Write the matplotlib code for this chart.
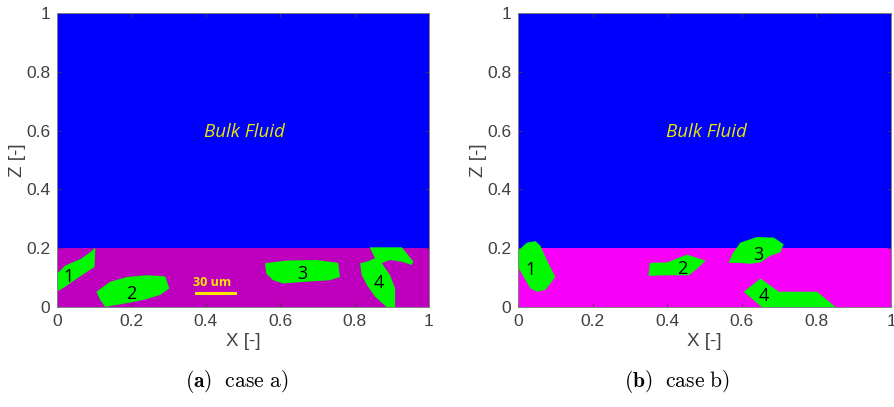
import matplotlib
matplotlib.use("Agg")
import matplotlib.pyplot as plt
from matplotlib.patches import Polygon

plt.rcParams['mathtext.fontset'] = 'cm'

# ---- data ----
interface_z = 0.2
x_ticks = [0, 0.2, 0.4, 0.6, 0.8, 1]
z_ticks = [0, 0.2, 0.4, 0.6, 0.8, 1]
x_ticklabels = ["0", "0.2", "0.4", "0.6", "0.8", "1"]
z_ticklabels = ["0", "0.2", "0.4", "0.6", "0.8", "1"]

# case a) grains (X, Z vertices)
a_g1_x = [0, 0, 0.022, 0.063, 0.089, 0.103, 0.101, 0.080, 0.054, 0.022]
a_g1_z = [0.052, 0.113, 0.141, 0.163, 0.186, 0.202, 0.136, 0.119, 0.097, 0.069]
a_g2_x = [0.106, 0.143, 0.188, 0.242, 0.291, 0.302, 0.277, 0.233, 0.188, 0.130, 0.116]
a_g2_z = [0.052, 0.086, 0.102, 0.108, 0.104, 0.063, 0.041, 0.024, 0.013, 0.0, 0.024]
a_g3_x = [0.559, 0.617, 0.698, 0.756, 0.761, 0.733, 0.671, 0.608, 0.581, 0.563]
a_g3_z = [0.149, 0.158, 0.160, 0.150, 0.102, 0.091, 0.086, 0.080, 0.091, 0.113]
a_g4_x = [0.841, 0.927, 0.940, 0.958, 0.953, 0.927, 0.895, 0.873, 0.895, 0.909,
          0.909, 0.886, 0.855, 0.833, 0.819, 0.815, 0.837, 0.855, 0.846]
a_g4_z = [0.203, 0.203, 0.183, 0.154, 0.143, 0.154, 0.160, 0.149, 0.109, 0.064,
          0.0, 0.0, 0.035, 0.075, 0.109, 0.149, 0.156, 0.166, 0.188]
a_label_x = [0.031, 0.199, 0.660, 0.864]
a_label_z = [0.102, 0.043, 0.111, 0.081]

# case b) grains
b_g1_x = [0, 0.024, 0.047, 0.060, 0.078, 0.100, 0.087, 0.073, 0.051, 0.033, 0.015, 0]
b_g1_z = [0.191, 0.219, 0.224, 0.208, 0.158, 0.102, 0.080, 0.058, 0.052, 0.063, 0.102, 0.136]
b_g2_x = [0.353, 0.400, 0.453, 0.503, 0.480, 0.458, 0.400, 0.350]
b_g2_z = [0.150, 0.152, 0.178, 0.158, 0.130, 0.108, 0.108, 0.106]
b_g3_x = [0.565, 0.574, 0.596, 0.641, 0.686, 0.712, 0.703, 0.676, 0.650, 0.623, 0.596]
b_g3_z = [0.150, 0.180, 0.219, 0.238, 0.236, 0.213, 0.186, 0.174, 0.152, 0.147, 0.150]
b_g4_x = [0.605, 0.650, 0.699, 0.802, 0.851, 0.653]
b_g4_z = [0.052, 0.097, 0.052, 0.052, 0.0, 0.0]
b_label_x = [0.033, 0.440, 0.643, 0.659]
b_label_z = [0.127, 0.130, 0.178, 0.038]
grain_labels = ["1", "2", "3", "4"]

# scale bar (case a)
scalebar_x = [0.374, 0.478]
scalebar_z = [0.049, 0.049]
scalebar_text = "30 um"

panels = [
    dict(grains=[(a_g1_x, a_g1_z), (a_g2_x, a_g2_z), (a_g3_x, a_g3_z), (a_g4_x, a_g4_z)],
         lx=a_label_x, lz=a_label_z, bottom_color='#BE00BE',
         caption=r"$\mathbf{(a)}\ \ \mathrm{case\ a)}$", pos=[0.0637, 0.2457, 0.4156, 0.7224],
         cap_x=0.264),
    dict(grains=[(b_g1_x, b_g1_z), (b_g2_x, b_g2_z), (b_g3_x, b_g3_z), (b_g4_x, b_g4_z)],
         lx=b_label_x, lz=b_label_z, bottom_color='#F800F8',
         caption=r"$\mathbf{(b)}\ \ \mathrm{case\ b)}$", pos=[0.5788, 0.2457, 0.4168, 0.7224],
         cap_x=0.756),
]

fig = plt.figure(figsize=(8.95, 4.07), dpi=100)
tick_color = '#404040'

for i, p in enumerate(panels):
    ax = fig.add_axes(p['pos'])
    ax.set_xlim(0, 1)
    ax.set_ylim(0, 1)
    ax.axhspan(interface_z, 1, color='#0000FF', lw=0, zorder=1)
    ax.axhspan(0, interface_z, color=p['bottom_color'], lw=0, zorder=1)
    for gx, gz in p['grains']:
        ax.add_patch(Polygon(list(zip(gx, gz)), closed=True, facecolor='#00F800',
                             edgecolor='none', zorder=2))
    for lab, x, z in zip(grain_labels, p['lx'], p['lz']):
        ax.text(x, z, lab, ha='center', va='center', fontsize=13,
                family='Open Sans', color='black', zorder=3)
    ax.text(0.505, 0.596, "Bulk Fluid", ha='center', va='center', fontsize=13.5,
            style='italic', family='Open Sans', color='#E8E800', zorder=3)
    if i == 0:
        ax.plot(scalebar_x, scalebar_z, color='#FFE600', lw=2.2, zorder=3)
        ax.text(sum(scalebar_x) / 2 - 0.01, 0.083, scalebar_text, ha='center', va='center',
                fontsize=9, weight='bold', family='Open Sans', color='#FFE600', zorder=3)
    ax.set_xticks(x_ticks)
    ax.set_xticklabels(x_ticklabels)
    ax.set_yticks(z_ticks)
    ax.set_yticklabels(z_ticklabels)
    ax.tick_params(direction='in', length=3, width=0.6, colors=tick_color,
                   labelsize=12.5, top=True, right=True, pad=5)
    for lab in ax.get_xticklabels() + ax.get_yticklabels():
        lab.set_family('Liberation Sans')
        lab.set_color(tick_color)
    for s in ax.spines.values():
        s.set_color('#808080')
        s.set_linewidth(0.7)
    ax.set_xlabel("X [-]", fontsize=13.5, color=tick_color, family='Liberation Sans', labelpad=3)
    ax.set_ylabel("Z [-]", fontsize=13.5, color=tick_color, family='Liberation Sans', labelpad=0)
    fig.text(p['cap_x'], 0.063, p['caption'], ha='center', va='center', fontsize=15.5)

fig.savefig("out.png", dpi=100)
